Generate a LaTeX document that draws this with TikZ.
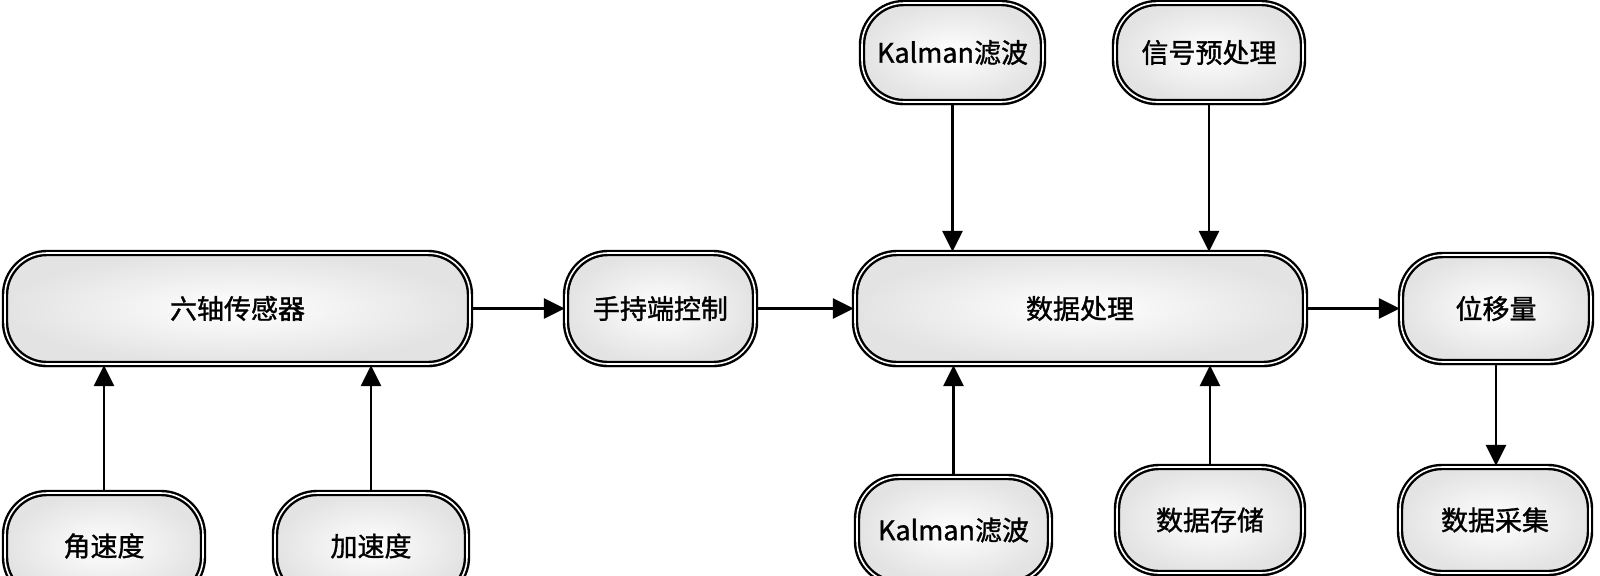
\documentclass[tikz,border=0pt]{standalone}
\usepackage{fontspec}
\setmainfont{Noto Sans CJK SC}[FakeBold=1.2]
\usetikzlibrary{arrows.meta,shadows}
\tikzset{
  box/.style={draw=black, line width=1.2pt, double=white, double distance=0.8pt,
    rounded corners=21pt, inner sep=0pt, inner color=white, outer color=gray!22,
    font=\fontsize{13.5pt}{15pt}\selectfont, text=black,
    drop shadow={shadow xshift=0pt, shadow yshift=-1.6pt, opacity=0.7, fill=black}},
  conn/.style={line width=1.4pt, draw=black, -{Triangle[length=10.5pt,width=10pt]}}
}
\begin{document}
\begin{tikzpicture}[x=0.5pt,y=-0.5pt]
\useasboundingbox (0,0) rectangle (1600,575);
\clip (0,0) rectangle (1600,575);
\fill[white] (0,0) rectangle (1600,575);
% middle row
\node[box, minimum width=232.5pt, minimum height=55.5pt] (six) at (237.5,308.5) {六轴传感器};
\node[box, minimum width=94.5pt, minimum height=55.5pt] (hand) at (660.5,308.5) {手持端控制};
\node[box, minimum width=225pt, minimum height=55.5pt] (proc) at (1080,308.5) {数据处理};
\node[box, minimum width=95pt, minimum height=53.5pt] (disp) at (1496,308.5) {位移量};
% top row
\node[box, minimum width=90.5pt, minimum height=49.5pt] (kt) at (952.5,52.5) {Kalman滤波};
\node[box, minimum width=94pt, minimum height=49.5pt] (sig) at (1209,52.5) {信号预处理};
% bottom row
\node[box, minimum width=96.5pt, minimum height=53pt] (kb) at (953.5,530) {Kalman滤波};
\node[box, minimum width=93pt, minimum height=53pt] (store) at (1210,520) {数据存储};
\node[box, minimum width=95pt, minimum height=53pt] (coll) at (1495,520) {数据采集};
\node[box, minimum width=99pt, minimum height=53pt] (ang) at (104,546) {角速度};
\node[box, minimum width=96pt, minimum height=53pt] (acc) at (371,546) {加速度};
% connectors
\draw[conn] (six.east) -- (hand.west);
\draw[conn] (hand.east) -- (proc.west);
\draw[conn] (proc.east) -- (disp.west);
\draw[conn] (kt.south) -- (kt.south |- proc.north);
\draw[conn] (sig.south) -- (sig.south |- proc.north);
\draw[conn] (kb.north) -- (kb.north |- proc.south);
\draw[conn] (store.north) -- (store.north |- proc.south);
\draw[conn] (ang.north) -- (ang.north |- six.south);
\draw[conn] (acc.north) -- (acc.north |- six.south);
\draw[conn] (disp.south) -- (disp.south |- coll.north);
\end{tikzpicture}
\end{document}
